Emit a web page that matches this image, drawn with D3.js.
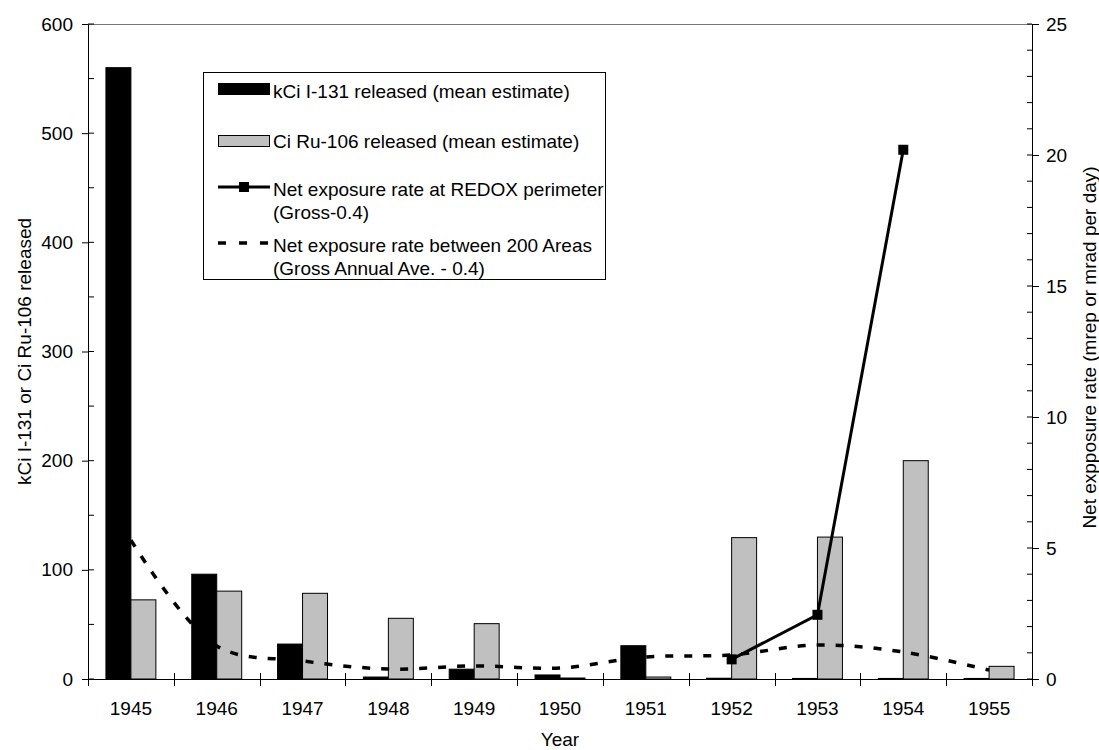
<!DOCTYPE html>
<html><head><meta charset="utf-8">
<script src="https://cdn.jsdelivr.net/npm/d3@7"></script>
<style>
body{margin:0;background:#fff}
svg{display:block}
text{font-family:"Liberation Sans",Arial,sans-serif;font-size:19px;fill:#000}
</style></head>
<body><svg id="c" width="1099" height="750"></svg>
<script>
// ---- data ----
const years = ["1945","1946","1947","1948","1949","1950","1951","1952","1953","1954","1955"];
const i131 = [560, 96, 32, 1.8, 9, 3.7, 30.5, 0.7, 0.5, 0.5, 0.5];          // kCi I-131
const ru106 = [72.5, 80.5, 78.5, 55.6, 50.7, 0.9, 1.8, 129.5, 130, 200, 11.6]; // Ci Ru-106
const redoxYears = ["1952","1953","1954"];
const redox = [0.75, 2.45, 20.2];
const areas200 = [5.3, 1.26, 0.69, 0.38, 0.5, 0.42, 0.84, 0.92, 1.3, 1.03, 0.34];
const leftTicks = [0,100,200,300,400,500,600];
const rightTicks = [0,5,10,15,20,25];
const legendLabels = [
  ["kCi I-131 released (mean estimate)"],
  ["Ci Ru-106 released (mean estimate)"],
  ["Net exposure rate at REDOX perimeter","(Gross-0.4)"],
  ["Net exposure rate between 200 Areas","(Gross Annual Ave. - 0.4)"]
];

// ---- layout ----
const L = 88, R = 1032, T = 24, B = 679;
const svg = d3.select("#c");
const x = d3.scaleBand().domain(years).range([L, R]).padding(0);
const yL = d3.scaleLinear().domain([0, 600]).range([B, T]);
const yR = d3.scaleLinear().domain([0, 25]).range([B, T]);
const bw = x.bandwidth() * 0.291;
const cx = d => x(d) + x.bandwidth() / 2;

// top border
svg.append("line").attr("x1", L).attr("x2", R).attr("y1", T + 0.5).attr("y2", T + 0.5)
  .attr("stroke", "#777").attr("stroke-width", 1);

// bars
svg.append("g").selectAll("rect").data(years).join("rect")
  .attr("x", (d) => cx(d) - bw).attr("width", bw)
  .attr("y", (d, i) => yL(i131[i])).attr("height", (d, i) => B - yL(i131[i]))
  .attr("fill", "#000").attr("stroke", "#000").attr("stroke-width", 1);
svg.append("g").selectAll("rect").data(years).join("rect")
  .attr("x", (d) => cx(d)).attr("width", bw)
  .attr("y", (d, i) => yL(ru106[i])).attr("height", (d, i) => B - yL(ru106[i]))
  .attr("fill", "#c0c0c0").attr("stroke", "#000").attr("stroke-width", 1);

// dashed smooth line
const dashLine = d3.line().x((d, i) => cx(years[i])).y(d => yR(d)).curve(d3.curveCatmullRom.alpha(0.5));
svg.append("path").datum(areas200).attr("d", dashLine)
  .attr("fill", "none").attr("stroke", "#000").attr("stroke-width", 3.5)
  .attr("stroke-dasharray", "8,11");

// REDOX line
const redoxLine = d3.line().x((d, i) => cx(redoxYears[i])).y(d => yR(d));
svg.append("path").datum(redox).attr("d", redoxLine)
  .attr("fill", "none").attr("stroke", "#000").attr("stroke-width", 3);
svg.append("g").selectAll("rect").data(redox).join("rect")
  .attr("x", (d, i) => cx(redoxYears[i]) - 5).attr("y", d => yR(d) - 5)
  .attr("width", 10).attr("height", 10).attr("fill", "#000");

// left axis
const gL = svg.append("g").attr("transform", `translate(${L},0)`)
  .call(d3.axisLeft(yL).tickValues(leftTicks).tickSize(6).tickPadding(9));
gL.selectAll("text").style("font-size", "19px").attr("font-family", null);
gL.select(".domain").attr("stroke", "#000");
gL.selectAll("g.inner").data(d3.range(0, 601, 50)).join("line")
  .attr("x1", 0).attr("x2", 6).attr("y1", d => yL(d)).attr("y2", d => yL(d)).attr("stroke", "#000");

// right axis
const gR = svg.append("g").attr("transform", `translate(${R},0)`)
  .call(d3.axisRight(yR).tickValues(rightTicks).tickSize(7).tickPadding(7));
gR.selectAll("text").style("font-size", "19px").attr("font-family", null);
gR.select(".domain").attr("stroke", "#000");
gR.selectAll("g.inner").data(d3.range(0, 26, 1)).join("line")
  .attr("x1", -5).attr("x2", 0).attr("y1", d => yR(d)).attr("y2", d => yR(d)).attr("stroke", "#000");

// bottom axis
svg.append("line").attr("x1", L).attr("x2", R).attr("y1", B + 0.5).attr("y2", B + 0.5).attr("stroke", "#000");
const bounds = years.map(d => x(d)).concat([R]);
svg.append("g").selectAll("line").data(bounds).join("line")
  .attr("x1", d => Math.round(d) + 0.5).attr("x2", d => Math.round(d) + 0.5)
  .attr("y1", B - 6).attr("y2", B + 7).attr("stroke", "#000");
svg.append("g").selectAll("text").data(years).join("text")
  .attr("x", d => cx(d)).attr("y", 715).attr("text-anchor", "middle").text(d => d);

// axis titles
svg.append("text").attr("x", (L + R) / 2).attr("y", 746).attr("text-anchor", "middle").text("Year");
svg.append("text").attr("transform", `translate(24,${(T + B) / 2}) rotate(-90)`)
  .attr("dy", "0.35em").attr("text-anchor", "middle").text("kCi I-131 or Ci Ru-106 released");
svg.append("text").attr("transform", `translate(1089,${(T + B) / 2 - 4}) rotate(-90)`)
  .attr("dy", "0.35em").attr("text-anchor", "middle").text("Net expposure rate (mrep or mrad per day)");

// legend
const lg = svg.append("g");
lg.append("rect").attr("x", 203.5).attr("y", 72.5).attr("width", 402).attr("height", 207)
  .attr("fill", "#fff").attr("stroke", "#000");
lg.append("rect").attr("x", 218.5).attr("y", 83.5).attr("width", 51).attr("height", 11)
  .attr("fill", "#000").attr("stroke", "#000");
lg.append("rect").attr("x", 218.5).attr("y", 135.5).attr("width", 51).attr("height", 11)
  .attr("fill", "#c0c0c0").attr("stroke", "#000");
lg.append("line").attr("x1", 218).attr("x2", 270).attr("y1", 187).attr("y2", 187)
  .attr("stroke", "#000").attr("stroke-width", 3);
lg.append("rect").attr("x", 239).attr("y", 182).attr("width", 10).attr("height", 10).attr("fill", "#000");
lg.append("line").attr("x1", 218).attr("x2", 276).attr("y1", 243).attr("y2", 243)
  .attr("stroke", "#000").attr("stroke-width", 3.5).attr("stroke-dasharray", "8,13");
const baselines = [[98],[148],[196,219],[252,275]];
legendLabels.forEach((lines, i) => {
  lines.forEach((t, j) => {
    lg.append("text").attr("x", 273).attr("y", baselines[i][j]).text(t);
  });
});
</script>
</body></html>
